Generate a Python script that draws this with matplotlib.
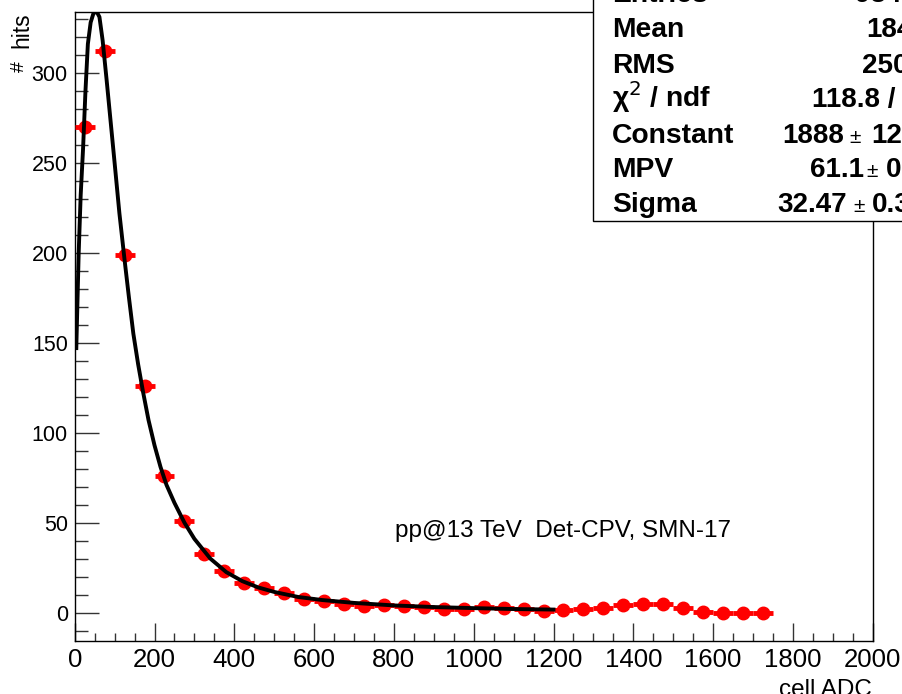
import matplotlib
matplotlib.use("Agg")
import matplotlib.pyplot as plt
from matplotlib.patches import Rectangle
from matplotlib.ticker import MultipleLocator

plt.rcParams['font.family'] = ['Liberation Sans', 'DejaVu Sans']

# histogram (bin centres, 50 ADC wide bins)
bin_centres = [25, 75, 125, 175, 225, 275, 325, 375, 425, 475, 525, 575, 625, 675,
               725, 775, 825, 875, 925, 975, 1025, 1075, 1125, 1175, 1225, 1275,
               1325, 1375, 1425, 1475, 1525, 1575, 1625, 1675, 1725]
hits = [270, 312, 199, 126, 76, 51, 32.5, 23, 16.7, 13.6, 10.8, 7.8, 6.2, 4.9,
        3.8, 4.4, 3.6, 3.3, 2.2, 1.8, 3.1, 2.3, 1.9, 1.0, 1.7, 1.9,
        2.7, 4.5, 5.0, 5.0, 2.3, 0.6, 0.0, 0.0, 0.0]
bin_half = 25

# landau fit curve
fit_x = [4, 10, 15, 21, 27, 33, 40, 47, 55, 62, 70, 80, 90, 100, 112, 125, 136,
         147, 159, 171, 185, 200, 215, 230, 250, 275, 300, 340, 380, 420, 460,
         500, 560, 620, 700, 800, 900, 1000, 1100, 1200]
fit_y = [147, 200, 232, 258, 290, 316, 328, 333, 334, 331, 318, 296, 273, 250,
         222, 196, 175, 155, 138, 123, 107, 93, 81, 71, 61, 50, 41, 30, 22.5,
         17.5, 14, 11.5, 8.7, 7.0, 5.4, 4.0, 3.1, 2.5, 2.0, 1.7]

# stats box: label, value, error (error parts fall off the canvas edge)
stat_names = ["Entries", "Mean", "RMS", "χ$^{2}$ / ndf", "Constant", "MPV", "Sigma"]
stat_values = ["9841", "184.2", "250.3", "118.8 /  33", "1888", "61.1", "32.47"]
stat_errors = [None, None, None, None, "12.3", "0.4", "0.36"]

W, H = 902, 694
fig = plt.figure(figsize=(W / 100, H / 100), dpi=100)
ax = fig.add_axes([74.7 / W, 1 - 640.7 / H, (872.7 - 74.7) / W, (640.7 - 12.3) / H])

ax.errorbar(bin_centres, hits, xerr=bin_half, fmt='o', color='#ff0000',
            ms=9, elinewidth=3.5, capsize=0, zorder=3)
ax.plot(fit_x, fit_y, color='black', lw=2.8, zorder=4)

ax.set_xlim(0, 2000)
ax.set_ylim(-15.6, 333.6)
ax.xaxis.set_major_locator(MultipleLocator(200))
ax.xaxis.set_minor_locator(MultipleLocator(50))
ax.yaxis.set_major_locator(MultipleLocator(50))
ax.yaxis.set_minor_locator(MultipleLocator(10))
ax.tick_params(which='both', direction='in', top=False, right=False,
               color='#333333', width=1)
ax.tick_params(axis='x', which='major', length=13, pad=5, labelsize=18.5)
ax.tick_params(axis='x', which='minor', length=6)
ax.tick_params(axis='y', which='major', length=17, pad=5, labelsize=15.5)
ax.tick_params(axis='y', which='minor', length=9)
for s in ax.spines.values():
    s.set_linewidth(1)

ax.text(802, 45.4, "pp@13 TeV  Det-CPV, SMN-17", fontsize=17.5, va='center', ha='left')

# axis titles, ROOT style
fig.text(22 / W, 1 - 12 / H, "hits", rotation=90, ha='center', va='top', fontsize=16.5)
fig.text(19 / W, 1 - 67 / H, "#", rotation=90, ha='center', va='center', fontsize=14)
fig.text(872 / W, 1 - 679 / H, "cell ADC", ha='right', va='top', fontsize=17.5)

# stats box, clipped by the canvas edges
box = Rectangle((593 / W, 1 - 221 / H), 1, 1, transform=fig.transFigure,
                facecolor='white', edgecolor='black', lw=1, zorder=10)
fig.add_artist(box)
baselines = [2.5, 37.3, 73.3, 107.3, 143.3, 176.7, 211.7]
value_x = [855, 866, 861.7, 811.7, 782.7, 810, 777.3]
pm_x = [None, None, None, None, 849, 866, 853]
err_x = [None, None, None, None, 871.7, 886, 871.7]
for i, name in enumerate(stat_names):
    yb = 1 - baselines[i] / H
    fig.text(612 / W, yb, name, ha='left', va='baseline',
             fontsize=20.3, fontweight='bold', zorder=11)
    fig.text(value_x[i] / W, yb, stat_values[i], ha='left', va='baseline',
             fontsize=20, fontweight='bold', zorder=11)
    if stat_errors[i] is not None:
        fig.text(pm_x[i] / W, yb, "±", ha='left', va='baseline',
                 fontsize=15, zorder=11)
        fig.text(err_x[i] / W, yb, stat_errors[i], ha='left', va='baseline',
                 fontsize=20, fontweight='bold', zorder=11)

fig.savefig("out.png", dpi=100)
